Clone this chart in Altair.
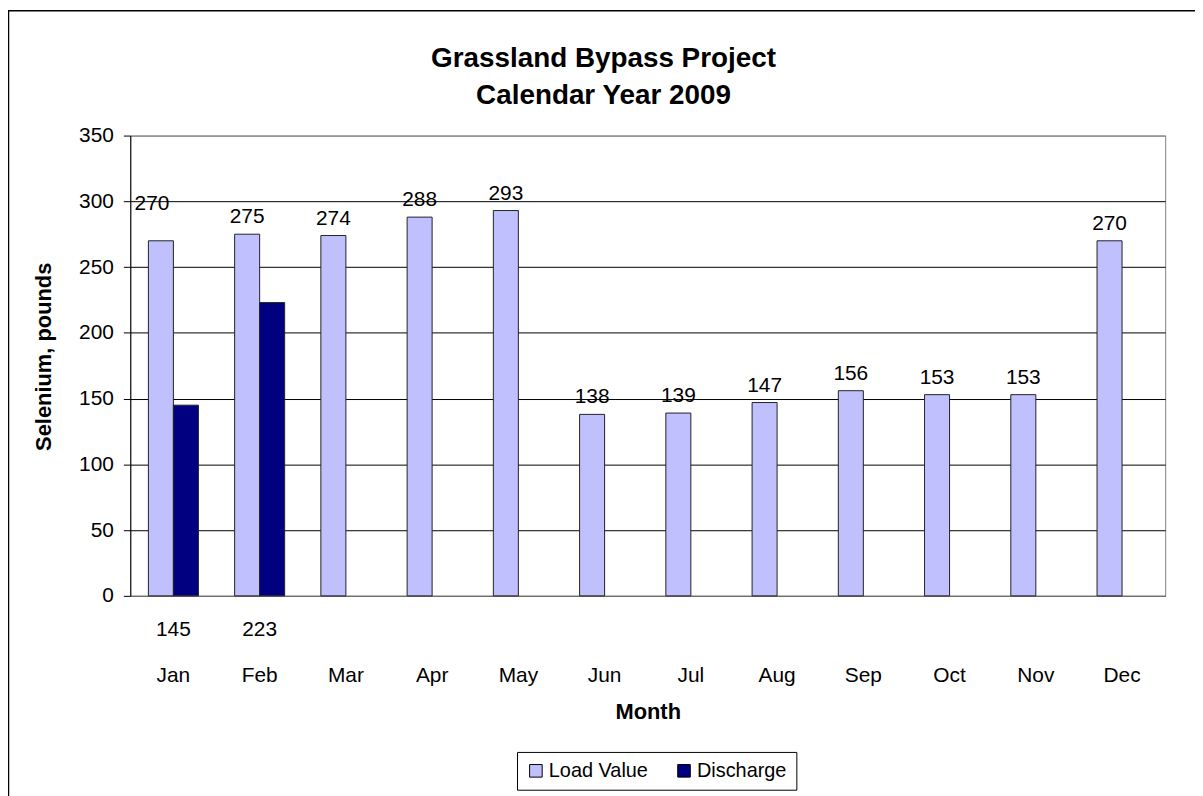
import altair as alt
import pandas as pd

months = ["Jan", "Feb", "Mar", "Apr", "May", "Jun", "Jul", "Aug", "Sep", "Oct", "Nov", "Dec"]
load_values = [270, 275, 274, 288, 293, 138, 139, 147, 156, 153, 153, 270]
discharge_values = [145, 223, None, None, None, None, None, None, None, None, None, None]
series_names = ["Load Value", "Discharge"]
series_colors = ["#C0C0FF", "#000080"]
y_ticks = [0, 50, 100, 150, 200, 250, 300, 350]
title_lines = ["Grassland Bypass Project", "Calendar Year 2009"]

rows = []
for m, lv, dv in zip(months, load_values, discharge_values):
    rows.append({"month": m, "series": "Load Value", "value": lv})
    if dv is not None:
        rows.append({"month": m, "series": "Discharge", "value": dv})
df = pd.DataFrame(rows)

W, H = 1041, 463
FONT = "Liberation Sans"

x_enc = alt.X(
    "month:N",
    sort=months,
    scale=alt.Scale(paddingInner=0.42, paddingOuter=0.21),
    axis=alt.Axis(
        title="Month",
        labelAngle=0,
        labelFontSize=21,
        labelColor="black",
        labelBaseline="alphabetic",
        labelPadding=86,
        ticks=False,
        tickSize=0,
        domainColor="#808080",
        titleFontSize=22,
        titleFontWeight="bold",
        titleColor="black",
        titleBaseline="alphabetic",
        titleY=123,
        titleX=W / 2,
    ),
)
xoff = alt.XOffset("series:N", sort=series_names, scale=alt.Scale(domain=series_names))
y_enc = alt.Y(
    "value:Q",
    scale=alt.Scale(domain=[0, 350], nice=False),
    axis=alt.Axis(
        title="Selenium, pounds",
        values=y_ticks,
        labelFontSize=21,
        labelColor="black",
        labelPadding=10,
        tickSize=7,
        tickColor="black",
        domainColor="black",
        gridColor={"condition": {"test": "datum.value == 350", "value": "#808080"}, "value": "black"},
        gridOpacity=1,
        titleFontSize=22,
        titleFontWeight="bold",
        titleColor="black",
        titleX=-87,
        titleY=222,
        titleAlign="center",
        titleBaseline="middle",
        titleAngle=-90,
    ),
)

base = alt.Chart(df)

bars = base.mark_bar(stroke="#222222", strokeWidth=1).encode(
    x=x_enc,
    xOffset=xoff,
    y=y_enc,
    color=alt.Color(
        "series:N",
        sort=series_names,
        scale=alt.Scale(domain=series_names, range=series_colors),
        legend=alt.Legend(
            title=None,
            orient="none",
            direction="horizontal",
            legendX=389,
            legendY=620,
            symbolType="square",
            symbolSize=160,
            symbolStrokeColor="black",
            symbolStrokeWidth=1,
            symbolOpacity=1,
            labelFontSize=20,
            labelColor="black",
            labelOffset=3,
            columnPadding=26,
            padding=9,
            strokeColor="black",
            fillColor="white",
        ),
    ),
)

load_labels = base.transform_filter(
    "datum.series == 'Load Value' && datum.month != 'Jan'"
).mark_text(fontSize=21, baseline="alphabetic", dy=-11, color="black").encode(
    x=alt.X("month:N", sort=months),
    xOffset=xoff,
    y=alt.Y("value:Q"),
    text=alt.Text("value:Q"),
)

jan_label = base.transform_filter(
    "datum.series == 'Load Value' && datum.month == 'Jan'"
).mark_text(fontSize=21, baseline="alphabetic", dy=-31, dx=-9, color="black").encode(
    x=alt.X("month:N", sort=months),
    xOffset=xoff,
    y=alt.Y("value:Q"),
    text=alt.Text("value:Q"),
)

discharge_labels = base.transform_filter(
    "datum.series == 'Discharge'"
).mark_text(fontSize=21, baseline="alphabetic", dy=40, color="black").encode(
    x=alt.X("month:N", sort=months),
    y=alt.datum(0),
    text=alt.Text("value:Q"),
)

one = pd.DataFrame({"k": [0]})

title_text = alt.Chart(one).mark_text(
    text=title_lines,
    fontSize=28,
    fontWeight="bold",
    lineHeight=37,
    baseline="alphabetic",
    align="center",
    color="black",
).encode(x=alt.value(476), y=alt.value(-69))

border_left = alt.Chart(one).mark_rule(color="black", strokeWidth=1.5).encode(
    x=alt.value(-122.5), y=alt.value(-125.5), y2=alt.value(H + 220)
)
border_top = alt.Chart(one).mark_rule(color="black", strokeWidth=1.5).encode(
    x=alt.value(-123), x2=alt.value(W + 40), y=alt.value(-125.5)
)

chart = alt.layer(
    border_left, border_top, title_text, bars, load_labels, jan_label, discharge_labels
).properties(
    width=W,
    height=H,
    autosize=alt.AutoSizeParams(type="none"),
    padding={"left": 123, "top": 126, "right": 30, "bottom": 200},
).configure(font=FONT).configure_view(stroke="#808080", strokeWidth=1)

chart.save("out.html", embed_options={"renderer": "svg", "actions": False})
